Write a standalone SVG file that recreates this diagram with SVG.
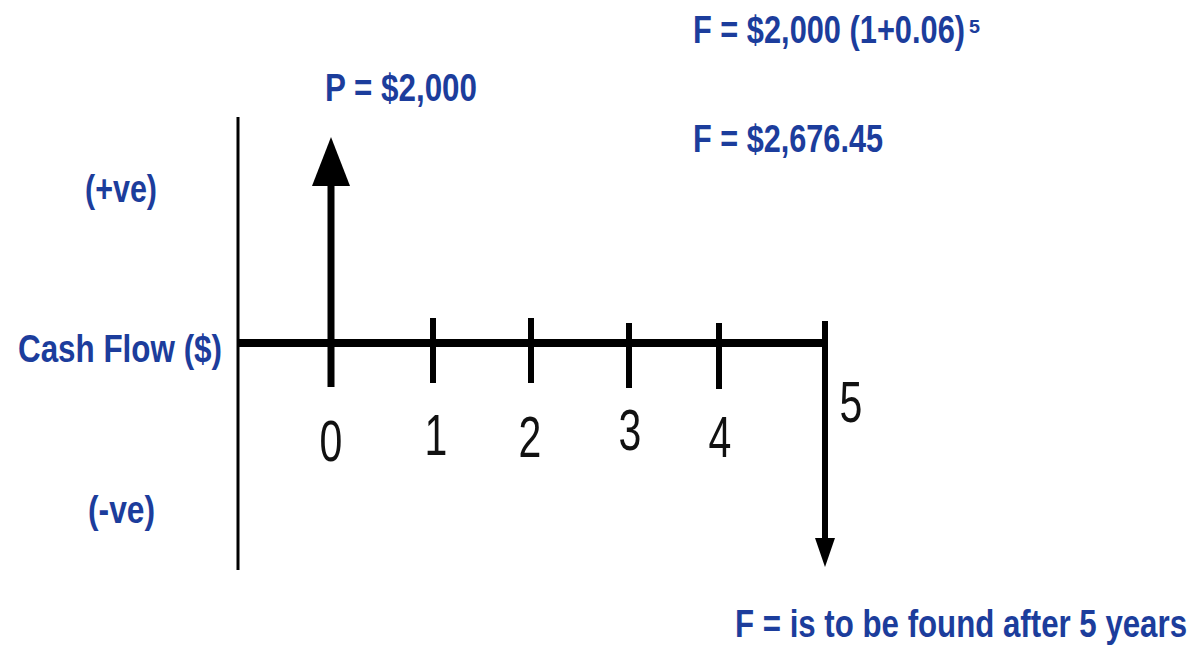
<svg xmlns="http://www.w3.org/2000/svg" width="1197" height="646" viewBox="0 0 1197 646">
<style>
.lbl{font-family:"Liberation Sans",Arial,sans-serif;font-weight:bold;font-size:39px;fill:#1c3d9c}
.num{font-family:"Liberation Sans",Arial,sans-serif;font-size:57px;fill:#111}
.ax{stroke:#000;fill:none}
</style>
<rect width="1197" height="646" fill="#fff"/>
<g id="connectors">
<line class="ax" x1="238" y1="117" x2="238" y2="570" stroke-width="3"/>
<line class="ax" x1="238" y1="343" x2="828" y2="343" stroke-width="8"/>
<line class="ax" x1="331" y1="387" x2="331" y2="180" stroke-width="7"/>
<polygon points="331,137 312,186 350,186" fill="#000"/>
<line class="ax" x1="433" y1="318" x2="433" y2="383" stroke-width="6"/>
<line class="ax" x1="531" y1="318" x2="531" y2="383" stroke-width="6"/>
<line class="ax" x1="629" y1="323" x2="629" y2="388" stroke-width="6"/>
<line class="ax" x1="719" y1="323" x2="719" y2="389" stroke-width="6"/>
<line class="ax" x1="825" y1="321" x2="825" y2="542" stroke-width="6"/>
<polygon points="825,567 815,538 835,538" fill="#000"/>
</g>
<g id="labels-left">
<text class="lbl" x="85" y="202" textLength="72" lengthAdjust="spacingAndGlyphs">(+ve)</text>
<text class="lbl" x="18" y="362" textLength="204" lengthAdjust="spacingAndGlyphs">Cash Flow ($)</text>
<text class="lbl" x="88" y="523" textLength="67" lengthAdjust="spacingAndGlyphs">(-ve)</text>
</g>
<g id="label-P">
<text class="lbl" x="325" y="101" textLength="152" lengthAdjust="spacingAndGlyphs">P = $2,000</text>
</g>
<g id="label-F">
<text class="lbl" x="693" y="43" textLength="272" lengthAdjust="spacingAndGlyphs">F = $2,000 (1+0.06)</text>
<text class="lbl" x="969" y="33" style="font-size:18px" textLength="11" lengthAdjust="spacingAndGlyphs">5</text>
<text class="lbl" x="693" y="152" textLength="190" lengthAdjust="spacingAndGlyphs">F = $2,676.45</text>
<text class="lbl" x="735" y="637" textLength="452" lengthAdjust="spacingAndGlyphs">F = is to be found after 5 years</text>
</g>
<g id="ticks-labels">
<text class="num" transform="translate(331,461) scale(0.72,1)" text-anchor="middle">0</text>
<text class="num" transform="translate(436,455) scale(0.72,1)" text-anchor="middle">1</text>
<text class="num" transform="translate(530,457) scale(0.72,1)" text-anchor="middle">2</text>
<text class="num" transform="translate(630,450) scale(0.72,1)" text-anchor="middle">3</text>
<text class="num" transform="translate(720,457) scale(0.72,1)" text-anchor="middle">4</text>
<text class="num" transform="translate(851,422) scale(0.72,1)" text-anchor="middle">5</text>
</g>
</svg>
